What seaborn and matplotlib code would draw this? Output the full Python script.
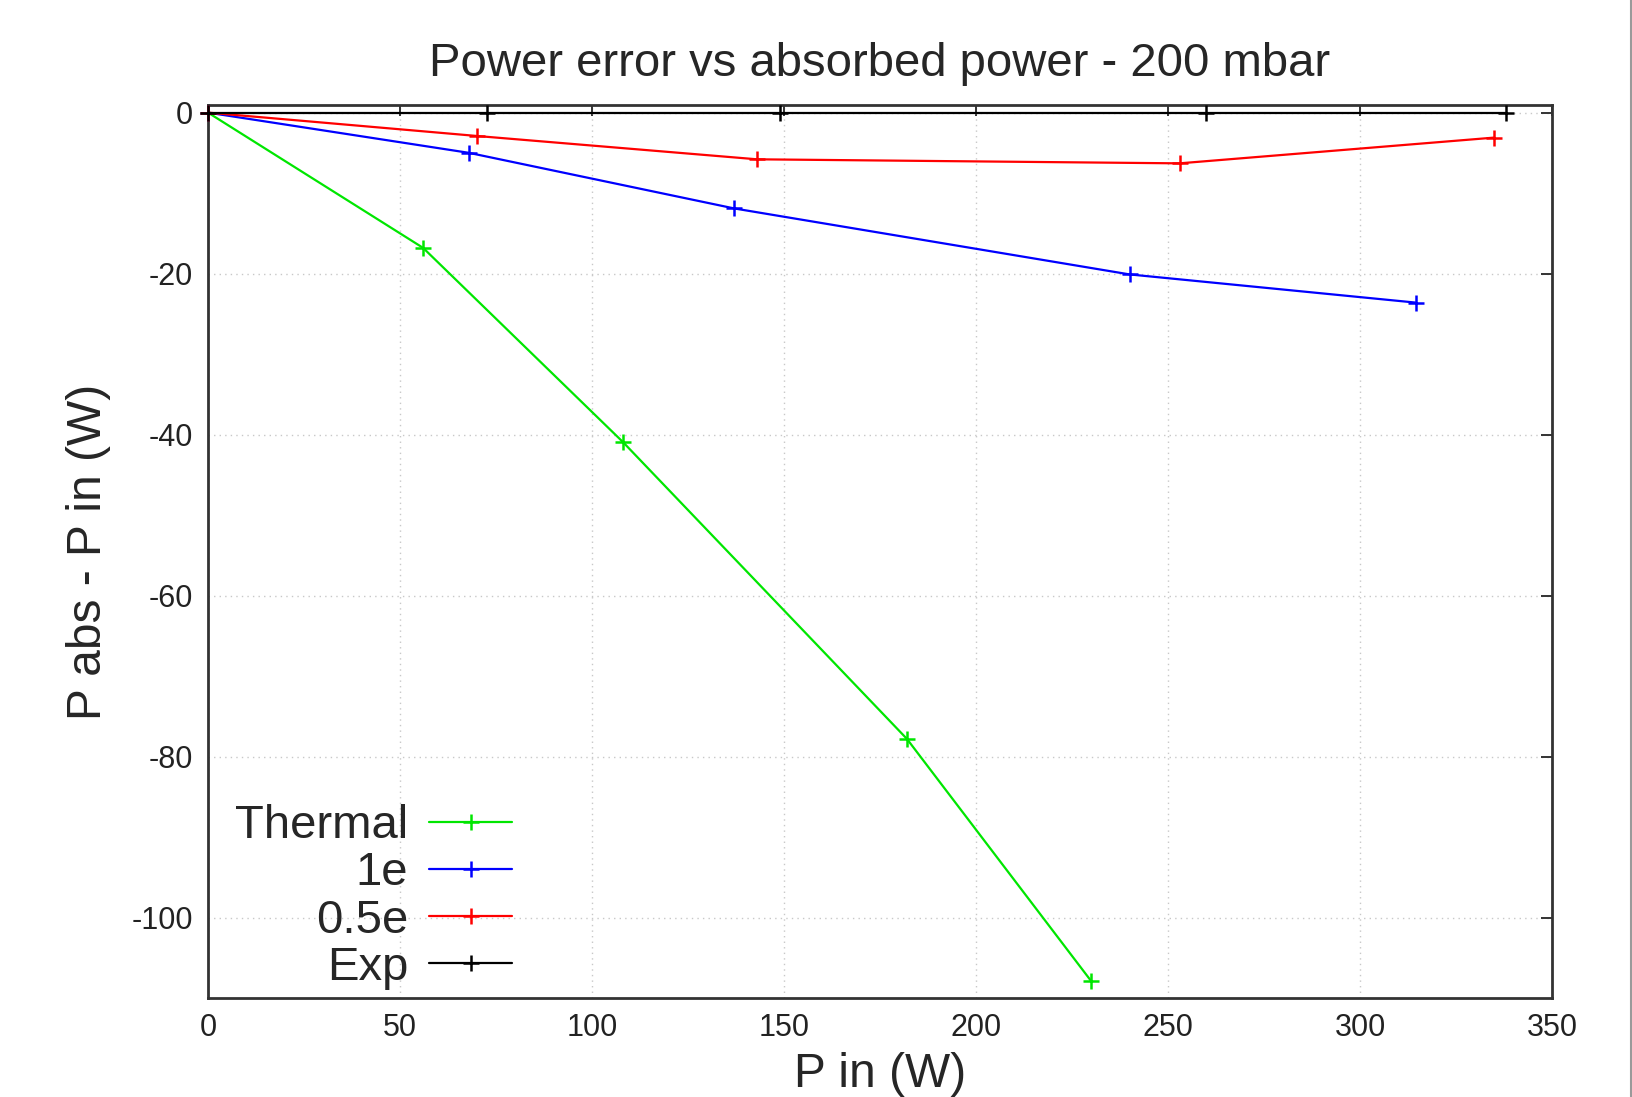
import numpy as np
import matplotlib
matplotlib.use('Agg')
import matplotlib.pyplot as plt
from matplotlib.lines import Line2D
import seaborn as sns

sns.set_theme(style='white')
plt.rcParams['font.family'] = ['Liberation Sans', 'DejaVu Sans']
plt.rcParams['axes.unicode_minus'] = False

# Input power (W) and power error P_abs - P_in (W) for each model
p_thermal = [0, 56, 108, 182, 230]
err_thermal = [0, -16.8, -40.9, -77.8, -107.9]

p_1e = [0, 68, 137, 240, 314.5]
err_1e = [0, -5.0, -11.9, -20.1, -23.6]

p_05e = [0, 70, 143, 253, 335]
err_05e = [0, -2.9, -5.8, -6.3, -3.1]

p_exp = [0, 72.7, 149, 260, 338]
err_exp = [0, 0, 0, 0, 0]

series = [
    ('Thermal', p_thermal, err_thermal, '#00e600'),
    ('1e', p_1e, err_1e, '#0000ff'),
    ('0.5e', p_05e, err_05e, '#ff0000'),
    ('Exp', p_exp, err_exp, '#000000'),
]

xticks = [0, 50, 100, 150, 200, 250, 300, 350]
yticks = [0, -20, -40, -60, -80, -100]

fig = plt.figure(figsize=(16.33, 10.97), dpi=100)
ax = fig.add_axes([0.1274, 0.0902, 0.823, 0.8141])

for name, px, err, col in series:
    sns.lineplot(x=px, y=err, ax=ax, color=col, lw=1.6, marker='+',
                 markersize=12, markeredgewidth=1.8, markeredgecolor=col,
                 label=name, clip_on=False, zorder=3)

ax.set_xlim(0, 350)
ax.set_ylim(-110, 0.95)
ax.set_xticks(xticks)
ax.set_yticks(yticks)
ax.tick_params(direction='in', length=8, width=1.4, pad=11, labelsize=22,
               colors='#333333', top=True, right=True, labelcolor='#222222')
for s in ax.spines.values():
    s.set_color('#333333')
    s.set_linewidth(2)
ax.grid(True, color='#c8c8c8', linestyle=(0, (1, 3)), linewidth=1)

ax.set_title('Power error vs absorbed power - 200 mbar', fontsize=34, pad=21)
ax.set_xlabel('P in (W)', fontsize=34.5, va='center')
ax.set_ylabel('P abs - P in (W)', fontsize=34.5, va='center')
ax.xaxis.set_label_coords(0.5, -0.086)
ax.yaxis.set_label_coords(-0.089, 0.5)

ax.legend(loc='lower left', bbox_to_anchor=(0.02, 0.009), frameon=False,
          markerfirst=False, fontsize=34, handlelength=1.75,
          handletextpad=0.45, labelspacing=0.07, borderpad=0, borderaxespad=0)

# thin grey edge from the original screenshot
fig.add_artist(Line2D([0.9985, 0.9985], [0, 1], transform=fig.transFigure,
                      color='#9a9a9a', lw=1.5))

fig.savefig('out.png', dpi=100)
